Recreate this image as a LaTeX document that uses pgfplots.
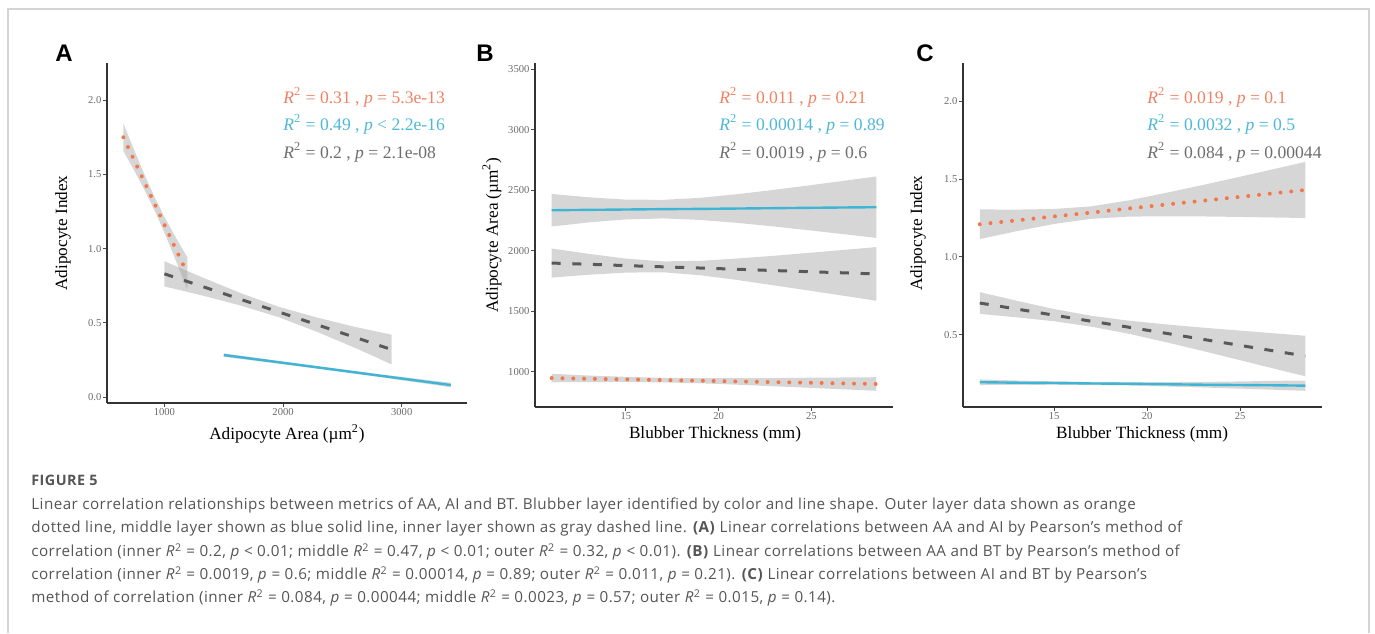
\documentclass[border=0pt]{standalone}
\usepackage{fontspec}
\setmainfont{Liberation Serif}
\newfontfamily\capfont[LetterSpace=3]{Open Sans}
\newfontfamily\letterfont{Liberation Sans}
\usepackage{pgfplots}
\usepackage{pgfplotstable}
\usepgfplotslibrary{fillbetween}
\pgfplotsset{compat=1.18}

\definecolor{outerc}{HTML}{F2784B}
\definecolor{middlec}{HTML}{3FB4D4}
\definecolor{innerc}{HTML}{595959}
\definecolor{outert}{HTML}{EF8262}
\definecolor{middlet}{HTML}{4DB8D8}
\definecolor{innert}{HTML}{6E6E6E}
\definecolor{tickc}{HTML}{6A6A6A}
\definecolor{capc}{HTML}{555555}
\definecolor{framec}{HTML}{D4D4D4}

% panel A: adipocyte area vs adipocyte index
\pgfplotstableread{
x     y      lo     hi
654   1.750  1.657  1.843
744   1.597  1.528  1.666
834   1.443  1.392  1.494
924   1.290  1.245  1.335
1014  1.137  1.081  1.193
1104  0.983  0.903  1.063
1194  0.830  0.720  0.940
}\tAouter
\pgfplotstableread{
x     y      lo     hi
1500  0.283  0.271  0.295
2140  0.216  0.207  0.224
2780  0.148  0.139  0.157
3413  0.081  0.066  0.096
}\tAmiddle
\pgfplotstableread{
x     y      lo     hi
1000  0.830  0.745  0.915
1320  0.745  0.684  0.806
1640  0.659  0.617  0.701
1960  0.574  0.539  0.609
2280  0.489  0.441  0.537
2600  0.404  0.334  0.474
2915  0.320  0.220  0.420
}\tAinner

% panel B: blubber thickness vs adipocyte area
\pgfplotstableread{
x     y     lo     hi
11    950   915    985
13    944   917    971
15    939   918    960
17    933   914    952
19    928   907    949
21    922   895    949
23    916   882    950
25    911   869    953
27    905   855    955
28.5  901   845    957
}\tBouter
\pgfplotstableread{
x     y     lo      hi
11    2335  2200.5  2469.5
13    2338  2234.3  2441.7
15    2341  2259.2  2422.8
17    2344  2267.3  2420.7
19    2346  2254.8  2437.2
21    2349  2230.6  2467.4
23    2352  2200.4  2503.6
25    2355  2167.4  2542.6
27    2358  2132.9  2583.1
28.5  2360  2106.3  2613.7
}\tBmiddle
\pgfplotstableread{
x     y     lo      hi
11    1899  1779.1  2018.9
13    1889  1802.7  1975.3
15    1878  1820.3  1935.7
17    1868  1823.0  1913.0
19    1858  1798.6  1917.4
21    1848  1759.4  1936.6
23    1837  1714.6  1959.4
25    1827  1669.1  1984.9
27    1817  1622.9  2011.1
28.5  1809  1587.4  2030.6
}\tBinner

% panel C: blubber thickness vs adipocyte index
\pgfplotstableread{
x     y      lo     hi
11    1.210  1.115  1.305
13    1.235  1.166  1.304
15    1.260  1.212  1.308
17    1.285  1.245  1.325
19    1.311  1.259  1.363
21    1.336  1.261  1.411
23    1.361  1.260  1.462
25    1.386  1.257  1.515
27    1.411  1.253  1.569
28.5  1.430  1.250  1.610
}\tCouter
\pgfplotstableread{
x     y      lo     hi
11    0.197  0.179  0.215
13    0.194  0.180  0.208
15    0.192  0.181  0.203
17    0.189  0.179  0.199
19    0.187  0.176  0.198
21    0.184  0.170  0.198
23    0.181  0.163  0.199
25    0.179  0.156  0.202
27    0.177  0.148  0.206
28.5  0.175  0.142  0.208
}\tCmiddle
\pgfplotstableread{
x     y      lo     hi
11    0.705  0.635  0.775
13    0.666  0.613  0.719
15    0.627  0.588  0.666
17    0.588  0.553  0.623
19    0.550  0.508  0.592
21    0.511  0.454  0.568
23    0.472  0.397  0.547
25    0.433  0.338  0.528
27    0.394  0.279  0.509
28.5  0.365  0.235  0.495
}\tCinner

\pgfplotsset{
  panel/.style={
    scale only axis, anchor=south west,
    axis lines=left, axis line style={-, line width=0.7pt, black!80},
    tick style={line width=0.5pt, black!70}, major tick length=2pt,
    tick align=outside, enlargelimits=false,
    ticklabel style={font=\fontsize{5.3}{6}\selectfont, text=tickc, inner sep=0.6pt},
    /pgf/number format/assume math mode=true,
    /pgf/number format/1000 sep={},
  },
  ribbon/.style={fill=black!40, fill opacity=0.4, draw=none, forget plot},
  outerl/.style={outerc, line width=2pt, line cap=round, dash pattern=on 0pt off 5.4pt},
  middlel/.style={middlec, line width=1.2pt},
  innerl/.style={innerc, line width=1.5pt, dash pattern=on 4.5pt off 5.8pt},
}

\begin{document}
\begin{tikzpicture}
% ---- A ----
\begin{axis}[panel, at={(53.5pt,-201.5pt)}, width=180pt, height=170pt,
  xmin=516, xmax=3550, ymin=-0.04, ymax=2.25,
  xtick={1000,2000,3000}, ytick={0,0.5,1,1.5,2},
  yticklabel style={/pgf/number format/.cd, fixed, fixed zerofill, precision=1}]
  \addplot[draw=none, name path=aohi, forget plot] table[x=x, y=hi] {\tAouter};
  \addplot[draw=none, name path=aolo, forget plot] table[x=x, y=lo] {\tAouter};
  \addplot[ribbon] fill between[of=aohi and aolo];
  \addplot[draw=none, name path=aihi, forget plot] table[x=x, y=hi] {\tAinner};
  \addplot[draw=none, name path=ailo, forget plot] table[x=x, y=lo] {\tAinner};
  \addplot[ribbon] fill between[of=aihi and ailo];
  \addplot[draw=none, name path=amhi, forget plot] table[x=x, y=hi] {\tAmiddle};
  \addplot[draw=none, name path=amlo, forget plot] table[x=x, y=lo] {\tAmiddle};
  \addplot[ribbon] fill between[of=amhi and amlo];
  \addplot[outerl] table[x=x, y=y] {\tAouter};
  \addplot[innerl] table[x=x, y=y] {\tAinner};
  \addplot[middlel] table[x=x, y=y] {\tAmiddle};
\end{axis}

% ---- B ----
\begin{axis}[panel, at={(267.5pt,-203.5pt)}, width=179pt, height=172pt,
  xmin=10.1, xmax=29.4, ymin=711, ymax=3550,
  xtick={15,20,25}, ytick={1000,1500,2000,2500,3000,3500}]
  \addplot[draw=none, name path=bohi, forget plot] table[x=x, y=hi] {\tBouter};
  \addplot[draw=none, name path=bolo, forget plot] table[x=x, y=lo] {\tBouter};
  \addplot[ribbon] fill between[of=bohi and bolo];
  \addplot[draw=none, name path=bmhi, forget plot] table[x=x, y=hi] {\tBmiddle};
  \addplot[draw=none, name path=bmlo, forget plot] table[x=x, y=lo] {\tBmiddle};
  \addplot[ribbon] fill between[of=bmhi and bmlo];
  \addplot[draw=none, name path=bihi, forget plot] table[x=x, y=hi] {\tBinner};
  \addplot[draw=none, name path=bilo, forget plot] table[x=x, y=lo] {\tBinner};
  \addplot[ribbon] fill between[of=bihi and bilo];
  \addplot[outerl] table[x=x, y=y] {\tBouter};
  \addplot[middlel] table[x=x, y=y] {\tBmiddle};
  \addplot[innerl] table[x=x, y=y] {\tBinner};
\end{axis}

% ---- C ----
\begin{axis}[panel, at={(481.5pt,-203.5pt)}, width=179.5pt, height=172pt,
  xmin=10.1, xmax=29.4, ymin=0.038, ymax=2.244,
  xtick={15,20,25}, ytick={0.5,1,1.5,2},
  yticklabel style={/pgf/number format/.cd, fixed, fixed zerofill, precision=1}]
  \addplot[draw=none, name path=cohi, forget plot] table[x=x, y=hi] {\tCouter};
  \addplot[draw=none, name path=colo, forget plot] table[x=x, y=lo] {\tCouter};
  \addplot[ribbon] fill between[of=cohi and colo];
  \addplot[draw=none, name path=cmhi, forget plot] table[x=x, y=hi] {\tCmiddle};
  \addplot[draw=none, name path=cmlo, forget plot] table[x=x, y=lo] {\tCmiddle};
  \addplot[ribbon] fill between[of=cmhi and cmlo];
  \addplot[draw=none, name path=cihi, forget plot] table[x=x, y=hi] {\tCinner};
  \addplot[draw=none, name path=cilo, forget plot] table[x=x, y=lo] {\tCinner};
  \addplot[ribbon] fill between[of=cihi and cilo];
  \addplot[outerl] table[x=x, y=y] {\tCouter};
  \addplot[middlel] table[x=x, y=y] {\tCmiddle};
  \addplot[innerl] table[x=x, y=y] {\tCinner};
\end{axis}

\begin{scope}[x=0.5pt, y=-0.5pt]
\path (0,0) rectangle (1375,633);
\draw[framec, line width=0.6pt] (8,633) -- (8,9) -- (1369,9) -- (1369,633);

% panel letters
\foreach \px/\lt in {64/A, 485/B, 925/C}
  \node[font=\letterfont\bfseries\fontsize{12}{12}\selectfont] at (\px,53) {\lt};

% axis titles
\begin{scope}[every node/.style={font=\fontsize{8.6}{9}\selectfont, inner sep=0}]
\node[rotate=90] at (63,233) {Adipocyte Index};
\node[rotate=90] at (492,235) {Adipocyte Area (µm\textsuperscript{2})};
\node[rotate=90] at (918,233) {Adipocyte Index};
\node at (287,434) {Adipocyte Area (µm\textsuperscript{2})};
\node at (715,434) {Blubber Thickness (mm)};
\node at (1142,434) {Blubber Thickness (mm)};
\end{scope}

% fit statistics
\begin{scope}[every node/.style={font=\fontsize{8.8}{9}\selectfont, inner sep=0, anchor=west}]
\node[text=outert]  at (283,97)  {\textit{R}\textsuperscript{2} = 0.31 , \textit{p} = 5.3e-13};
\node[text=middlet] at (283,124) {\textit{R}\textsuperscript{2} = 0.49 , \textit{p} < 2.2e-16};
\node[text=innert]  at (283,152) {\textit{R}\textsuperscript{2} = 0.2 , \textit{p} = 2.1e-08};
\node[text=outert]  at (719,97)  {\textit{R}\textsuperscript{2} = 0.011 , \textit{p} = 0.21};
\node[text=middlet] at (719,124) {\textit{R}\textsuperscript{2} = 0.00014 , \textit{p} = 0.89};
\node[text=innert]  at (719,152) {\textit{R}\textsuperscript{2} = 0.0019 , \textit{p} = 0.6};
\node[text=outert]  at (1147,97)  {\textit{R}\textsuperscript{2} = 0.019 , \textit{p} = 0.1};
\node[text=middlet] at (1147,124) {\textit{R}\textsuperscript{2} = 0.0032 , \textit{p} = 0.5};
\node[text=innert]  at (1147,152) {\textit{R}\textsuperscript{2} = 0.084 , \textit{p} = 0.00044};
\end{scope}

% caption
\begin{scope}[every node/.style={font=\capfont\fontsize{7.6}{8}\selectfont, text=capc, inner sep=0, anchor=west}]
\node[font=\capfont\bfseries\fontsize{7.2}{8}\selectfont] at (31,480) {FIGURE 5};
\node at (31,505) {Linear correlation relationships between metrics of AA, AI and BT. Blubber layer identified by color and line shape. Outer layer data shown as orange};
\node at (31,528) {dotted line, middle layer shown as blue solid line, inner layer shown as gray dashed line. \textbf{(A)} Linear correlations between AA and AI by Pearson’s method of};
\node at (31,552) {correlation (inner \textit{R}\textsuperscript{2} = 0.2, \textit{p} < 0.01; middle \textit{R}\textsuperscript{2} = 0.47, \textit{p} < 0.01; outer \textit{R}\textsuperscript{2} = 0.32, \textit{p} < 0.01). \textbf{(B)} Linear correlations between AA and BT by Pearson’s method of};
\node at (31,575) {correlation (inner \textit{R}\textsuperscript{2} = 0.0019, \textit{p} = 0.6; middle \textit{R}\textsuperscript{2} = 0.00014, \textit{p} = 0.89; outer \textit{R}\textsuperscript{2} = 0.011, \textit{p} = 0.21). \textbf{(C)} Linear correlations between AI and BT by Pearson’s};
\node at (31,598) {method of correlation (inner \textit{R}\textsuperscript{2} = 0.084, \textit{p} = 0.00044; middle \textit{R}\textsuperscript{2} = 0.0023, \textit{p} = 0.57; outer \textit{R}\textsuperscript{2} = 0.015, \textit{p} = 0.14).};
\end{scope}
\end{scope}
\end{tikzpicture}
\end{document}
